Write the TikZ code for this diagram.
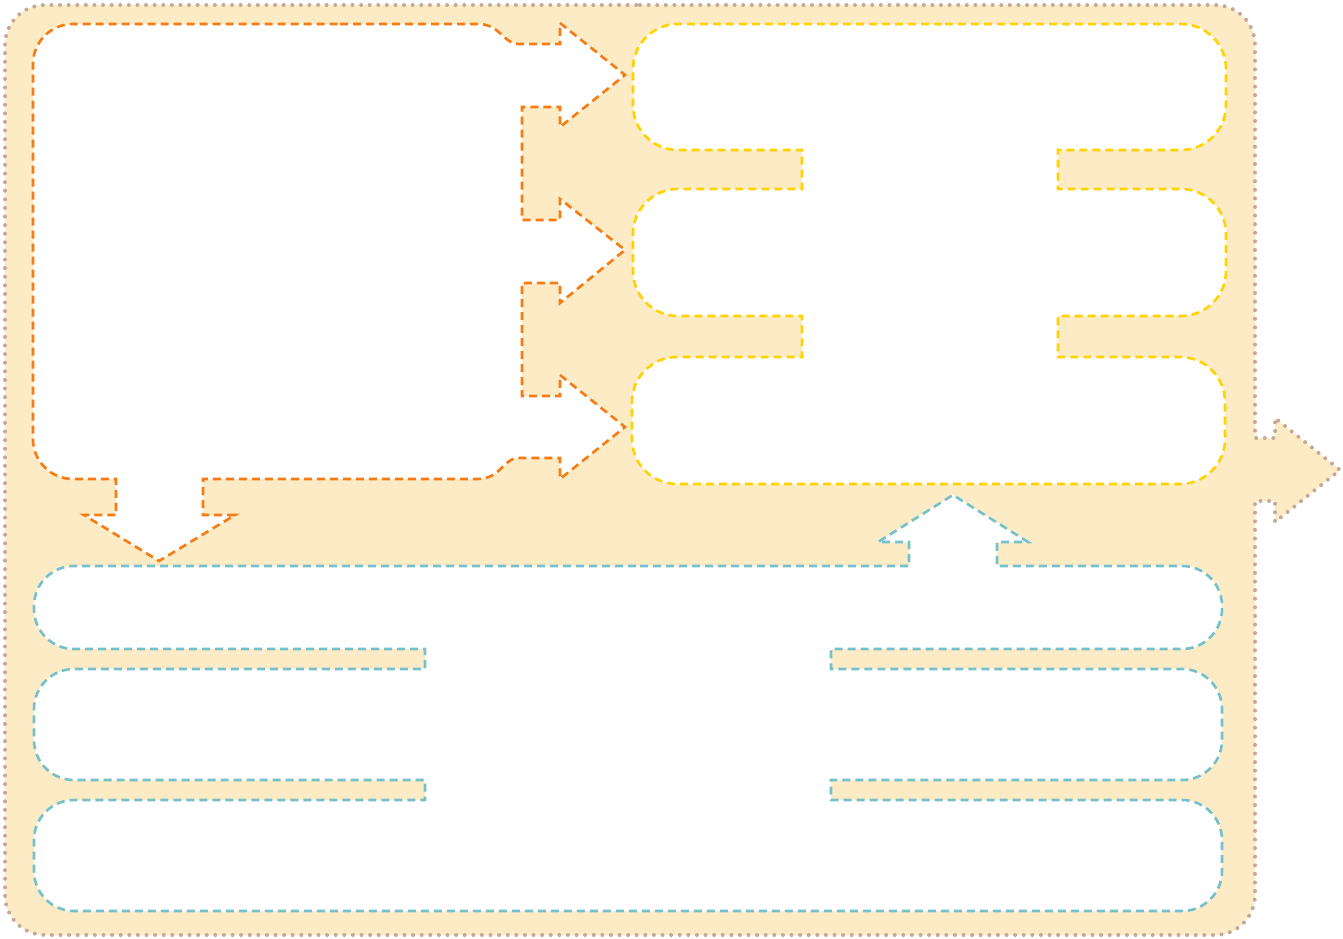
\documentclass[tikz,border=0pt]{standalone}
\usepackage{xcolor}
\usepackage{tikz}
\definecolor{peach}{HTML}{FDEBC6}
\definecolor{dotgrey}{HTML}{C4A998}
\definecolor{flowor}{HTML}{F97A10}
\definecolor{goldline}{HTML}{FFD200}
\definecolor{tealline}{HTML}{75C1CB}
\tikzstyle{frame}    = [draw=dotgrey, fill=peach, line width=4pt,
                        line cap=round, dash pattern=on 0pt off 8.6pt]
\tikzstyle{source}   = [draw=flowor, fill=white, line width=2.6pt,
                        dash pattern=on 8pt off 5pt]
\tikzstyle{stages}   = [draw=goldline, fill=white, line width=2.6pt,
                        dash pattern=on 8pt off 5pt]
\tikzstyle{layers}   = [draw=tealline, fill=white, line width=2.6pt,
                        dash pattern=on 8pt off 5pt]

\begin{document}
\begin{tikzpicture}[x=1pt, y=-1pt]
  \useasboundingbox (0,0) rectangle (1343,939);

  % outer frame with exit arrow
  \draw[frame] (600,5) [rounded corners=40pt] -- (1255,5)
    [sharp corners] -- (1255,438) -- (1275,438) -- (1275,418) -- (1340,470)
    -- (1275,522) -- (1275,501) -- (1255,501)
    [rounded corners=40pt] -- (1255,935) -- (5,935) -- (5,5) -- cycle;

  % left block with three arrows right and one down
  \draw[source] (300,24) -- (478,24) .. controls (500,24) and (504,44) .. (518,44)
    -- (560,44) -- (560,23) -- (625,75) -- (560,127) -- (560,107)
    -- (522,107) -- (522,220) -- (560,220) -- (560,199) -- (625,250)
    -- (560,303) -- (560,283) -- (522,283) -- (522,396) -- (560,396)
    -- (560,375) -- (625,427) -- (560,479) -- (560,458) -- (518,458)
    .. controls (504,458) and (500,479) .. (478,479)
    -- (203,479) -- (203,515) -- (235,515) -- (159,561) -- (84,515)
    -- (116,515) -- (116,479)
    [rounded corners=40pt] -- (33,479) -- (33,24) -- cycle;

  % three stages on the right, joined in the middle
  \draw[stages] (900,24) [rounded corners=45pt] -- (1226,24) -- (1226,150)
    [sharp corners] -- (1058,150) -- (1058,189)
    [rounded corners=45pt] -- (1226,189) -- (1226,316)
    [sharp corners] -- (1058,316) -- (1058,357)
    [rounded corners=45pt] -- (1225,357) -- (1225,484) -- (632,484) -- (632,357)
    [sharp corners] -- (802,357) -- (802,316)
    [rounded corners=45pt] -- (633,316) -- (633,189)
    [sharp corners] -- (802,189) -- (802,150)
    [rounded corners=45pt] -- (633,150) -- (633,24) -- cycle;

  % three layers at the bottom with arrow up
  \draw[layers] (600,566) -- (909,566) -- (909,542) -- (878,542)
    -- (953,495) -- (1028,542) -- (997,542) -- (997,566)
    [rounded corners=40pt] -- (1222,566) -- (1222,649)
    [sharp corners] -- (831,649) -- (831,669)
    [rounded corners=40pt] -- (1222,669) -- (1222,780)
    [sharp corners] -- (831,780) -- (831,800)
    [rounded corners=40pt] -- (1222,800) -- (1222,911) -- (34,911) -- (34,800)
    [sharp corners] -- (425,800) -- (425,780)
    [rounded corners=40pt] -- (34,780) -- (34,669)
    [sharp corners] -- (425,669) -- (425,649)
    [rounded corners=40pt] -- (34,649) -- (34,566) -- cycle;
\end{tikzpicture}
\end{document}
